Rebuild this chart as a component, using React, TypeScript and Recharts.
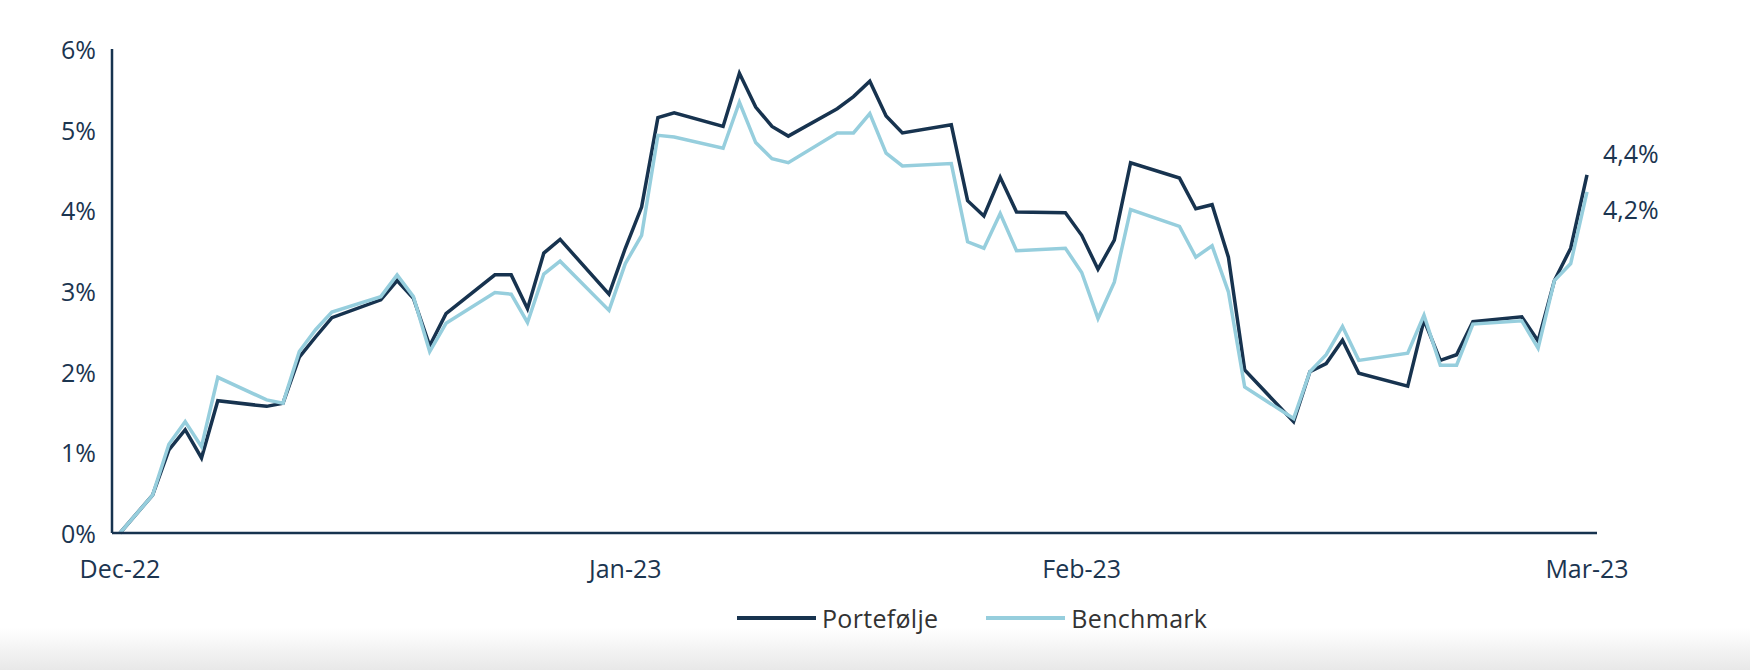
import React from "react";
import { LineChart, Line, XAxis, YAxis, Legend } from "recharts";

const dates = [
  "2022-12-31",
  "2023-01-02", "2023-01-03", "2023-01-04", "2023-01-05", "2023-01-06",
  "2023-01-09", "2023-01-10", "2023-01-11", "2023-01-12", "2023-01-13",
  "2023-01-16", "2023-01-17", "2023-01-18", "2023-01-19", "2023-01-20",
  "2023-01-23", "2023-01-24", "2023-01-25", "2023-01-26", "2023-01-27",
  "2023-01-30", "2023-01-31",
  "2023-02-01", "2023-02-02", "2023-02-03",
  "2023-02-06", "2023-02-07", "2023-02-08", "2023-02-09", "2023-02-10",
  "2023-02-13", "2023-02-14", "2023-02-15", "2023-02-16", "2023-02-17",
  "2023-02-20", "2023-02-21", "2023-02-22", "2023-02-23", "2023-02-24",
  "2023-02-27", "2023-02-28",
  "2023-03-01", "2023-03-02", "2023-03-03",
  "2023-03-06", "2023-03-07", "2023-03-08", "2023-03-09", "2023-03-10",
  "2023-03-13", "2023-03-14", "2023-03-15", "2023-03-16", "2023-03-17",
  "2023-03-20", "2023-03-21", "2023-03-22", "2023-03-23", "2023-03-24",
  "2023-03-27", "2023-03-28", "2023-03-29", "2023-03-30", "2023-03-31",
];

const portfolio = [
  0,
  0.47, 1.03, 1.28, 0.93, 1.64,
  1.57, 1.61, 2.18, 2.43, 2.67,
  2.89, 3.13, 2.91, 2.32, 2.72,
  3.2, 3.2, 2.78, 3.47, 3.64,
  2.96, 3.53,
  4.04, 5.15, 5.21,
  5.04, 5.7, 5.28, 5.04, 4.92,
  5.26, 5.41, 5.6, 5.17, 4.96,
  5.06, 4.12, 3.93, 4.41, 3.98,
  3.97, 3.69,
  3.27, 3.63, 4.59,
  4.4, 4.02, 4.07, 3.42, 2.02,
  1.38, 2.0, 2.1, 2.39, 1.98,
  1.82, 2.64, 2.14, 2.21, 2.62,
  2.68, 2.38, 3.13, 3.53, 4.44,
];

const benchmark = [
  0,
  0.47, 1.1, 1.38, 1.07, 1.93,
  1.65, 1.61, 2.25, 2.52, 2.74,
  2.93, 3.2, 2.93, 2.25, 2.6,
  2.98, 2.96, 2.61, 3.21, 3.37,
  2.76, 3.34,
  3.69, 4.93, 4.91,
  4.77, 5.34, 4.84, 4.64, 4.59,
  4.96, 4.96, 5.2, 4.71, 4.55,
  4.58, 3.61, 3.53, 3.96, 3.5,
  3.53, 3.23,
  2.66, 3.11, 4.01,
  3.8, 3.42, 3.56, 2.99, 1.81,
  1.42, 2.0, 2.21, 2.56, 2.14,
  2.23, 2.7, 2.08, 2.08, 2.59,
  2.63, 2.29, 3.13, 3.34, 4.23,
];

const tickDates = ["2022-12-31", "2023-01-31", "2023-02-28", "2023-03-31"];
const tickLabels = ["Dec-22", "Jan-23", "Feb-23", "Mar-23"];
const yTicks = [0, 1, 2, 3, 4, 5, 6];

const seriesNames = ["Portefølje", "Benchmark"];
const DARK = "#17334f";
const LIGHT = "#96cedd";
const TEXT = "#1b3550";
const FONT = "'Open Sans', sans-serif";

const DAY = 86400000;
const base = Date.parse(dates[0]);
const toDay = (d: string) => Math.round((Date.parse(d) - base) / DAY);

const data = dates.map((d, i) => ({
  day: toDay(d),
  p: portfolio[i],
  b: benchmark[i],
}));

const xTicks = tickDates.map(toDay);
const labelFor = (v: number) => {
  const i = xTicks.indexOf(v);
  return i >= 0 ? tickLabels[i] : "";
};

const fmtEnd = (v: number) => v.toFixed(1).replace(".", ",") + "%";

const makeEndLabel = (dy: number) => (props: any) => {
  const { x, y, index, value } = props;
  if (index !== data.length - 1) return null;
  return (
    <text
      key="end"
      x={x + 16}
      y={y + dy}
      fill={TEXT}
      fontSize={25}
      fontFamily={FONT}
      textAnchor="start"
      dominantBaseline="central"
    >
      {fmtEnd(Number(value))}
    </text>
  );
};

const LegendContent = () => (
  <div
    style={{
      height: 50,
      display: "flex",
      alignItems: "center",
      paddingLeft: 737,
      fontFamily: FONT,
      fontSize: 25,
      color: "#333333",
      letterSpacing: 0.3,
    }}
  >
    <div style={{ width: 79, height: 4, background: DARK }} />
    <span style={{ marginLeft: 6 }}>{seriesNames[0]}</span>
    <div style={{ width: 79, height: 4, background: LIGHT, marginLeft: 48 }} />
    <span style={{ marginLeft: 6 }}>{seriesNames[1]}</span>
  </div>
);

export default function App() {
  return (
    <div
      style={{
        position: "absolute",
        left: 0,
        top: 0,
        width: 1750,
        height: 670,
        background: "#ffffff",
        overflow: "hidden",
      }}
    >
      <div
        style={{
          position: "absolute",
          left: 0,
          top: 628,
          width: 1750,
          height: 42,
          background: "linear-gradient(to bottom, #ffffff, #e8e8e8)",
        }}
      />
      <LineChart
        width={1750}
        height={670}
        data={data}
        margin={{ top: 49, right: 153, left: 0, bottom: 27 }}
      >
        <XAxis
          dataKey="day"
          type="number"
          domain={[0, 90]}
          ticks={xTicks}
          tickFormatter={labelFor}
          padding={{ left: 8, right: 10 }}
          axisLine={{ stroke: DARK, strokeWidth: 2.5 }}
          tickLine={false}
          tickSize={6}
          tickMargin={21}
          height={60}
          interval={0}
          tick={{ fill: TEXT, fontSize: 25, fontFamily: FONT }}
        />
        <YAxis
          domain={[0, 6]}
          ticks={yTicks}
          tickFormatter={(v: number) => `${v}%`}
          width={112}
          axisLine={{ stroke: DARK, strokeWidth: 2.5 }}
          tickLine={false}
          tickSize={6}
          tickMargin={10}
          interval={0}
          tick={{ fill: TEXT, fontSize: 25, fontFamily: FONT, dy: 1 }}
        />
        <Legend
          verticalAlign="bottom"
          content={<LegendContent />}
          wrapperStyle={{ top: 593, left: 0, width: 1750, bottom: "auto", height: 50 }}
        />
        <Line
          type="linear"
          dataKey="p"
          name={seriesNames[0]}
          stroke={DARK}
          strokeWidth={3.5}
          dot={false}
          isAnimationActive={false}
          label={makeEndLabel(-22)}
        />
        <Line
          type="linear"
          dataKey="b"
          name={seriesNames[1]}
          stroke={LIGHT}
          strokeWidth={3.5}
          dot={false}
          isAnimationActive={false}
          label={makeEndLabel(17)}
        />
      </LineChart>
    </div>
  );
}
